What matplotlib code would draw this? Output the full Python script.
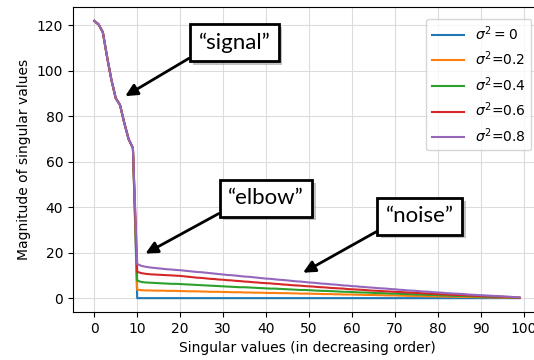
import matplotlib.pyplot as plt
import matplotlib.patheffects as pe
import numpy as np

# leading singular values (rank-10 signal), shared by every noise level
signal = [122.0, 120.5, 117.0, 106.0, 96.0, 88.0, 85.0, 77.0, 70.0, 66.0]

# trailing singular values (index 10..99) for each noise variance
noise_00 = [0.0] * 90
noise_02 = [3.7, 3.5, 3.4, 3.4, 3.3, 3.3, 3.3, 3.2, 3.2, 3.2,
            3.1, 3.1, 3.0, 3.0, 3.0, 2.9, 2.9, 2.8, 2.8, 2.8,
            2.7, 2.7, 2.6, 2.6, 2.6, 2.5, 2.5, 2.4, 2.4, 2.4,
            2.3, 2.3, 2.3, 2.2, 2.2, 2.2, 2.1, 2.1, 2.0, 2.0,
            2.0, 1.9, 1.9, 1.8, 1.8, 1.8, 1.7, 1.7, 1.6, 1.6,
            1.6, 1.5, 1.5, 1.4, 1.4, 1.4, 1.3, 1.3, 1.2, 1.2,
            1.2, 1.1, 1.1, 1.0, 1.0, 1.0, 0.9, 0.9, 0.8, 0.8,
            0.8, 0.7, 0.7, 0.7, 0.6, 0.6, 0.5, 0.5, 0.5, 0.4,
            0.4, 0.4, 0.3, 0.3, 0.3, 0.2, 0.2, 0.2, 0.1, 0.1]
noise_04 = [7.7, 7.1, 6.9, 6.8, 6.7, 6.6, 6.5, 6.4, 6.3, 6.3,
            6.2, 6.1, 6.0, 5.9, 5.8, 5.7, 5.6, 5.5, 5.4, 5.3,
            5.2, 5.1, 5.0, 4.9, 4.8, 4.8, 4.7, 4.6, 4.5, 4.4,
            4.3, 4.2, 4.2, 4.1, 4.0, 3.9, 3.8, 3.7, 3.6, 3.6,
            3.5, 3.4, 3.3, 3.2, 3.2, 3.1, 3.0, 2.9, 2.8, 2.8,
            2.7, 2.6, 2.5, 2.5, 2.4, 2.3, 2.2, 2.2, 2.1, 2.0,
            2.0, 1.9, 1.8, 1.8, 1.7, 1.6, 1.6, 1.5, 1.4, 1.4,
            1.3, 1.2, 1.2, 1.1, 1.0, 1.0, 0.9, 0.9, 0.8, 0.7,
            0.7, 0.6, 0.6, 0.5, 0.5, 0.4, 0.4, 0.3, 0.2, 0.2]
noise_06 = [11.6, 11.0, 10.7, 10.5, 10.4, 10.3, 10.2, 10.1, 10.0, 9.9,
            9.8, 9.6, 9.4, 9.2, 9.0, 8.9, 8.7, 8.5, 8.4, 8.2,
            8.1, 7.9, 7.8, 7.6, 7.5, 7.3, 7.2, 7.0, 6.9, 6.7,
            6.6, 6.5, 6.3, 6.2, 6.0, 5.9, 5.7, 5.6, 5.5, 5.3,
            5.2, 5.1, 4.9, 4.8, 4.7, 4.5, 4.4, 4.3, 4.2, 4.0,
            3.9, 3.8, 3.7, 3.6, 3.4, 3.3, 3.2, 3.1, 3.0, 2.9,
            2.8, 2.7, 2.6, 2.5, 2.4, 2.3, 2.2, 2.1, 2.0, 1.9,
            1.8, 1.7, 1.6, 1.5, 1.4, 1.4, 1.3, 1.2, 1.1, 1.0,
            0.9, 0.9, 0.8, 0.7, 0.7, 0.6, 0.5, 0.4, 0.3, 0.2]
noise_08 = [15.0, 14.2, 13.8, 13.5, 13.3, 13.1, 12.9, 12.7, 12.6, 12.4,
            12.3, 12.1, 11.9, 11.7, 11.5, 11.4, 11.2, 11.0, 10.8, 10.6,
            10.4, 10.2, 10.1, 9.9, 9.7, 9.5, 9.4, 9.2, 9.0, 8.8,
            8.6, 8.5, 8.3, 8.1, 8.0, 7.8, 7.6, 7.4, 7.3, 7.1,
            6.9, 6.8, 6.6, 6.4, 6.3, 6.1, 6.0, 5.8, 5.6, 5.5,
            5.3, 5.2, 5.0, 4.9, 4.7, 4.6, 4.4, 4.3, 4.2, 4.0,
            3.9, 3.7, 3.6, 3.4, 3.3, 3.2, 3.0, 2.9, 2.8, 2.6,
            2.5, 2.4, 2.2, 2.1, 2.0, 1.9, 1.8, 1.6, 1.5, 1.4,
            1.3, 1.2, 1.1, 1.0, 0.9, 0.8, 0.7, 0.6, 0.4, 0.3]

tails = [noise_00, noise_02, noise_04, noise_06, noise_08]
labels = [r'$\sigma^2 = 0$', r'$\sigma^2$=0.2', r'$\sigma^2$=0.4',
          r'$\sigma^2$=0.6', r'$\sigma^2$=0.8']

fig = plt.figure(figsize=(5.34, 3.6), dpi=100)
ax = fig.add_axes([0.1367, 0.1333, 0.876, 0.847])

for tail, lab in zip(tails, labels):
    s = np.array(signal + tail)
    ax.plot(np.arange(len(s)), s, label=lab)

ax.set_xticks(range(0, 101, 10))
ax.set_yticks(range(0, 121, 20))
ax.grid(True, color='#dcdcdc')
ax.set_xlabel('Singular values (in decreasing order)')
ax.set_ylabel('Magnitude of singular values')
ax.legend(loc='upper right', bbox_to_anchor=(0.995, 0.985),
          handlelength=2.3)

arrow = dict(arrowstyle='-|>,head_length=0.45,head_width=0.22', color='black',
             lw=2, relpos=(0, 0), shrinkA=0, shrinkB=0)
notes = [('\u201csignal\u201d', (7.2, 88.9), (32.6, 112.5)),
         ('\u201celbow\u201d', (11.9, 19.6), (40.0, 43.9)),
         ('\u201cnoise\u201d', (48.6, 11.2), (75.8, 36.0))]
for txt, tip, pos in notes:
    t = ax.annotate(txt, xy=tip, xytext=pos, ha='center', va='center',
                    fontsize=16, family='Lato', arrowprops=arrow,
                    bbox=dict(boxstyle='square,pad=0.38', fc='white',
                              ec='black', lw=2))
    # drop shadow under the callout box
    t.get_bbox_patch().set_path_effects(
        [pe.SimplePatchShadow(offset=(2.5, -2.5), shadow_rgbFace='#888888',
                              alpha=0.5), pe.Normal()])

fig.savefig('out.png', dpi=100)
